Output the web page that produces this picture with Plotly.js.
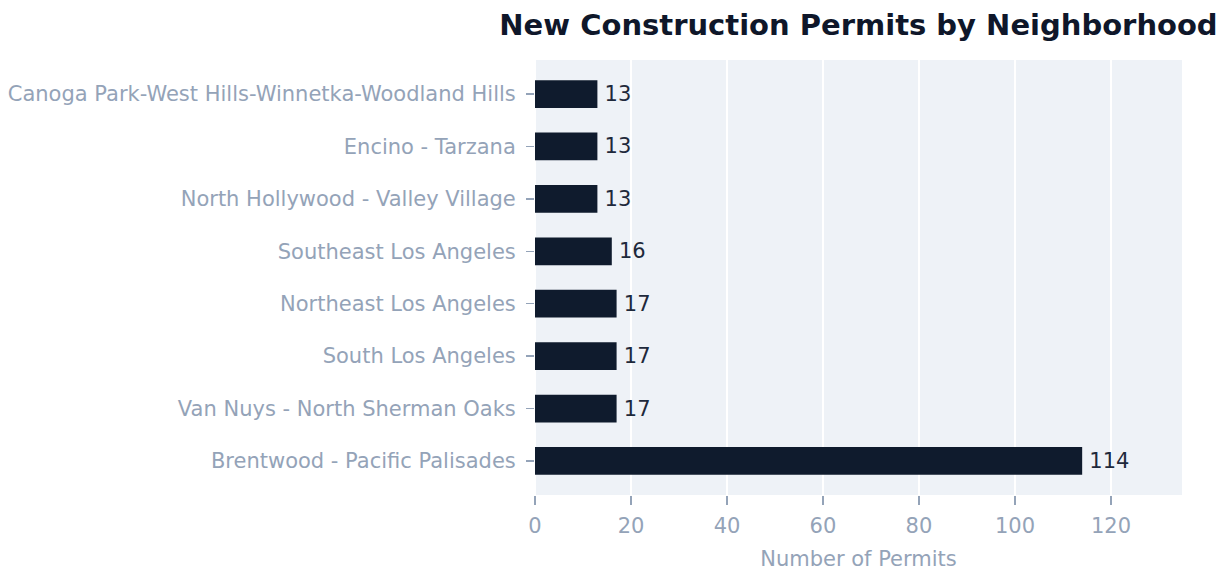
<!DOCTYPE html>
<html>
<head>
<meta charset="utf-8">
<script src="https://cdn.plot.ly/plotly-3.0.1.min.js"></script>
<style>html,body{margin:0;padding:0;background:#fff;}#chart{width:1228px;height:571px;}</style>
</head>
<body>
<div id="chart"></div>
<script>
const neighborhoods = [
  "Brentwood - Pacific Palisades",
  "Van Nuys - North Sherman Oaks",
  "South Los Angeles",
  "Northeast Los Angeles",
  "Southeast Los Angeles",
  "North Hollywood - Valley Village",
  "Encino - Tarzana",
  "Canoga Park-West Hills-Winnetka-Woodland Hills"
];
const permits = [114, 17, 17, 17, 16, 13, 13, 13];
const xTicks = [0, 20, 40, 60, 80, 100, 120];

const font = "DejaVu Sans, Verdana, sans-serif";
const gray = "#94a3b8";

Plotly.newPlot("chart", [{
  type: "bar",
  orientation: "h",
  y: neighborhoods,
  x: permits,
  text: permits.map(v => "\u2009" + v),
  textposition: "outside",
  cliponaxis: false,
  textfont: {family: font, size: 21, color: "#1e293b"},
  marker: {color: "#0f1b2d"},
  width: 0.53,
  hoverinfo: "x+y"
}], {
  width: 1228,
  height: 571,
  margin: {l: 535, r: 46, t: 60, b: 76},
  paper_bgcolor: "#ffffff",
  plot_bgcolor: "#eef2f7",
  showlegend: false,
  title: {
    text: "<b>New Construction Permits by Neighborhood</b>",
    font: {family: font, size: 29, color: "#0f172a"},
    x: 0.5, xref: "paper", xanchor: "center",
    y: 0.957, yref: "container", yanchor: "middle"
  },
  xaxis: {
    range: [0, 134.8],
    tickvals: xTicks,
    ticks: "outside", ticklen: 9, tickcolor: gray, tickwidth: 1.5,
    ticklabelstandoff: 3,
    tickfont: {family: font, size: 21, color: gray},
    gridcolor: "#ffffff", gridwidth: 2,
    zeroline: true, zerolinecolor: "#ffffff", zerolinewidth: 2,
    showline: false,
    title: {text: "Number of Permits", font: {family: font, size: 21, color: gray}, standoff: 14}
  },
  yaxis: {
    range: [-0.65, 7.65],
    ticks: "outside", ticklen: 8, tickcolor: gray, tickwidth: 1.5,
    ticklabelstandoff: 6,
    tickfont: {family: font, size: 21, color: gray},
    showgrid: false, zeroline: false, showline: false
  }
}, {displayModeBar: false, staticPlot: true});
</script>
</body>
</html>
